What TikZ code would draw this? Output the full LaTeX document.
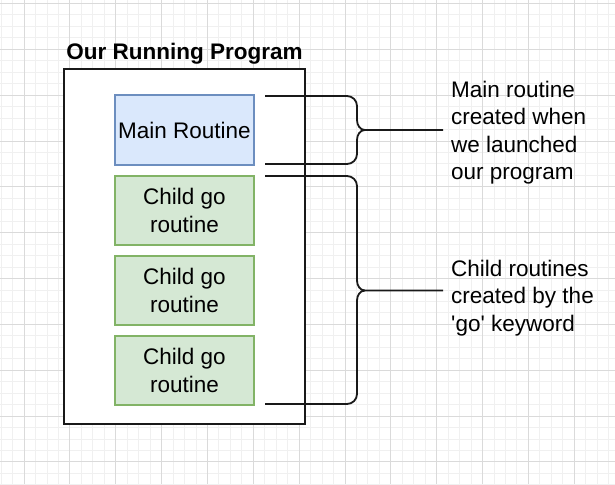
\documentclass[tikz,border=0pt]{standalone}
\usepackage{fontspec}
\setmainfont{Liberation Sans}
\definecolor{gridminor}{HTML}{F0F0F0}
\definecolor{gridmajor}{HTML}{DADADA}
\definecolor{bluefill}{HTML}{DAE8FC}
\definecolor{bluestroke}{HTML}{6C8EBF}
\definecolor{greenfill}{HTML}{D5E8D4}
\definecolor{greenstroke}{HTML}{82B366}
\begin{document}
\begin{tikzpicture}[x=1pt,y=-1pt,
  txt/.style={font=\fontsize{22.5}{27.4}\selectfont, inner sep=0pt},
  outerbox/.style={draw=black!90, line width=2pt, fill=white, minimum width=241pt, minimum height=355pt, inner sep=0pt},
  mainbox/.style={txt, draw=bluestroke, fill=bluefill, line width=1.8pt, minimum width=139pt, minimum height=70pt, align=center},
  childbox/.style={txt, draw=greenstroke, fill=greenfill, line width=1.8pt, minimum width=139pt, minimum height=69pt, align=center},
  bracket/.style={draw=black!90, line width=1.8pt},
  note/.style={txt, align=left, anchor=west},
  titletxt/.style={font=\fontsize{22.5}{27}\selectfont\bfseries, inner sep=0pt}
]
\useasboundingbox (0,0) rectangle (615,484);
\fill[white] (0,0) rectangle (615,484);
% grid
\foreach \i in {-2,...,52} {
  \draw[gridminor, line width=0.8pt] ({24+\i*11.4625},0) -- ({24+\i*11.4625},484);
}
\foreach \i in {-1,...,42} {
  \draw[gridminor, line width=0.8pt] (0,{3.35+\i*11.4625}) -- (615,{3.35+\i*11.4625});
}
\foreach \i in {0,...,13} {
  \draw[gridmajor, line width=0.8pt] ({24+\i*45.85},0) -- ({24+\i*45.85},484);
}
\foreach \i in {0,...,10} {
  \draw[gridmajor, line width=0.8pt] (0,{3.35+\i*45.85}) -- (615,{3.35+\i*45.85});
}
% outer program box
\node[outerbox] (prog) at (184.5,246.5) {};
\node[titletxt, anchor=base] (title) at (184.5,60) {Our Running Program};
% routines
\node[mainbox] (main) at (184.5,130) {Main Routine};
\node[childbox] (c1) at (184.5,210.3) {Child go\\routine};
\node[childbox] (c2) at (184.5,290.5) {Child go\\routine};
\node[childbox] (c3) at (184.5,370.5) {Child go\\routine};
% bracket coordinates
\coordinate (b1t) at (265,96);
\coordinate (b1b) at (265,164);
\coordinate (b1m) at (443,130);
\coordinate (b2t) at (265,176);
\coordinate (b2b) at (265,404);
\coordinate (b2m) at (443,290.5);
% notes
\node[note] (n1) at (451,132.5) {Main routine\\created when\\we launched\\our program};
\node[note] (n2) at (451,297.8) {Child routines\\created by the\\\textquotesingle go\textquotesingle\ keyword};
% brackets
\draw[bracket] (b1t) -- (347,96) to[out=0,in=90] (357,106) -- (357,120) to[out=-90,in=180] (365,130) -- (b1m);
\draw[bracket] (b1b) -- (347,164) to[out=0,in=-90] (357,154) -- (357,140) to[out=90,in=180] (365,130);
\draw[bracket] (b2t) -- (347,176) to[out=0,in=90] (357,186) -- (357,280.5) to[out=-90,in=180] (365,290.5) -- (b2m);
\draw[bracket] (b2b) -- (347,404) to[out=0,in=-90] (357,394) -- (357,300.5) to[out=90,in=180] (365,290.5);
\end{tikzpicture}
\end{document}
